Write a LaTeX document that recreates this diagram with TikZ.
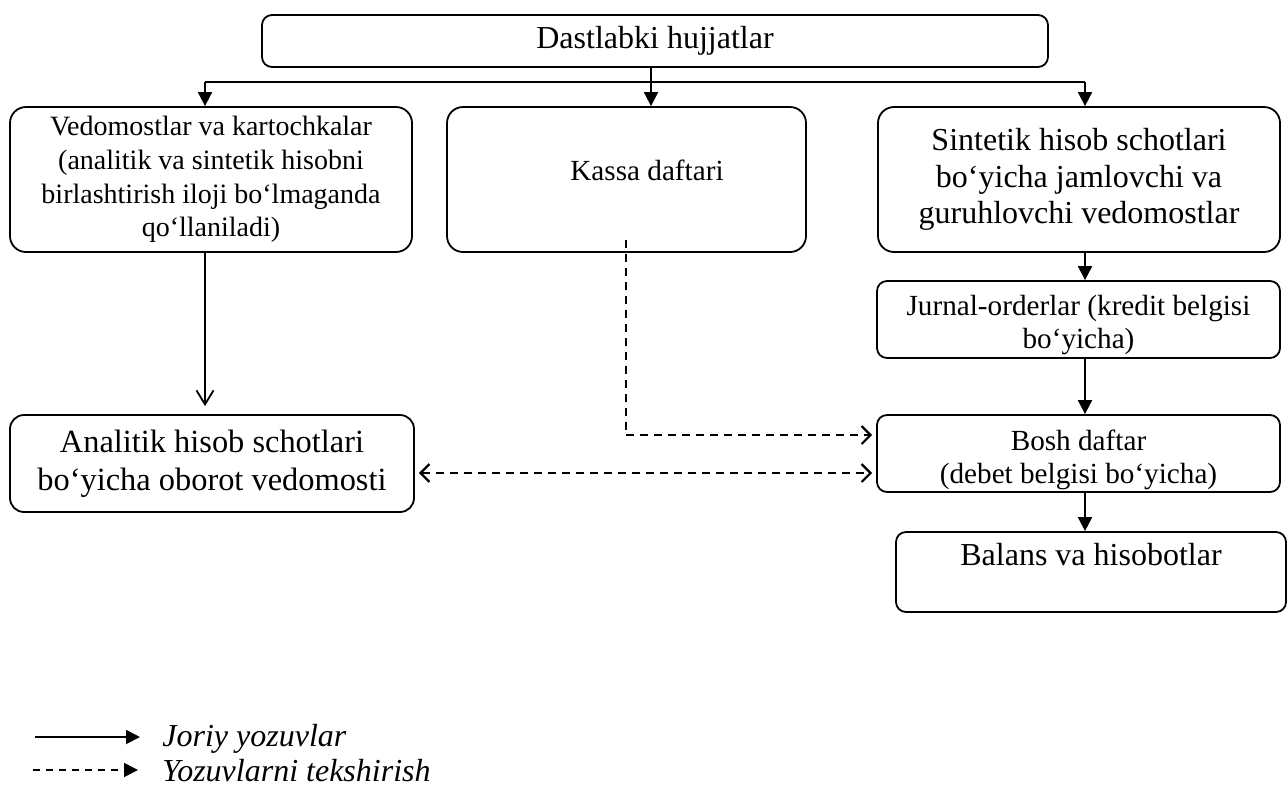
\documentclass[tikz,border=0pt]{standalone}
\usepackage{fontspec}
\setmainfont{Liberation Serif}
\usetikzlibrary{arrows.meta}
\begin{document}
\begin{tikzpicture}[x=0.5pt,y=-0.5pt,
  box/.style={draw,line width=0.9pt,rounded corners=8pt,align=center,inner sep=0pt},
  smallbox/.style={box,rounded corners=5pt},
  txt/.style={align=center,inner sep=0pt},
  big/.style={font=\fontsize{16}{19.2}\selectfont},
  mid/.style={font=\fontsize{14.6}{16.8}\selectfont},
  solidarrow/.style={line width=0.9pt,-{Triangle[length=7pt,width=7pt]}},
  openarrow/.style={line width=0.9pt,-{Straight Barb[length=7pt,width=8.5pt,line width=0.9pt]}},
  dashthin/.style={line width=0.6pt,dash pattern=on 4pt off 3pt},
  dashthick/.style={line width=1.1pt,dash pattern=on 4pt off 3pt},
  legtext/.style={font=\fontsize{16}{19.2}\selectfont\itshape,anchor=west,inner sep=0pt}
]
\useasboundingbox (0,0) rectangle (1288,794);

% boxes
\node[smallbox,big,minimum width=393pt,minimum height=26pt] (top) at (655,41) {Dastlabki hujjatlar};
\node[box,minimum width=201pt,minimum height=72.5pt,font=\fontsize{14}{16.8}\selectfont] (ved) at (211,179.5)
  {Vedomostlar va kartochkalar\\(analitik va sintetik hisobni\\birlashtirish iloji bo‘lmaganda\\qo‘llaniladi)};
\node[box,minimum width=179.5pt,minimum height=72.5pt] (kassa) at (626.5,179.5) {};
\node[txt,mid] (kassatxt) at (647,170) {Kassa daftari};
\node[box,minimum width=201pt,minimum height=72.5pt,font=\fontsize{16}{18.4}\selectfont] (sint) at (1079,179.5)
  {Sintetik hisob schotlari\\bo‘yicha jamlovchi va\\guruhlovchi vedomostlar};
\node[smallbox,minimum width=201.5pt,minimum height=38.5pt] (jur) at (1078.5,319.5) {};
\node[txt,mid] (jurtxt) at (1078.5,325) {Jurnal-orderlar (kredit belgisi\\bo‘yicha)};
\node[smallbox,minimum width=201.5pt,minimum height=38.5pt] (bosh) at (1078.5,453.5) {};
\node[txt,mid] (boshtxt) at (1078.5,460) {Bosh daftar\\(debet belgisi bo‘yicha)};
\node[smallbox,minimum width=195pt,minimum height=40pt] (bal) at (1091,572) {};
\node[txt,big] (baltxt) at (1091,555) {Balans va hisobotlar};
\node[box,rounded corners=7pt,minimum width=202pt,minimum height=48.5pt,font=\fontsize{16.2}{19.2}\selectfont] (anal) at (212,463.5)
  {Analitik hisob schotlari\\bo‘yicha oborot vedomosti};

% distribution from top
\coordinate (bus) at (651,82);
\coordinate (busL) at (205,82);
\coordinate (busR) at (1085,82);
\draw[line width=0.9pt] (top.south -| bus) -- (bus);
\draw[line width=0.9pt] (busL) -- (busR);
\draw[solidarrow] (busL) -- (ved.north -| busL);
\draw[solidarrow] (bus) -- (kassa.north -| bus);
\draw[solidarrow] (busR) -- (sint.north -| busR);

% right column
\draw[solidarrow] (sint.south -| busR) -- (jur.north -| busR);
\draw[solidarrow] (jur.south -| busR) -- (bosh.north -| busR);
\draw[solidarrow] (bosh.south -| busR) -- (bal.north -| busR);

% left column
\draw[openarrow,shorten >=4pt] (ved.south -| busL) -- (anal.north -| busL);

% dashed connectors
\coordinate (kstart) at (626,240);
\coordinate (kcorner) at (626,435);
\draw[dashthin] (kstart) -- (kcorner);
\draw[dashthick,-{Straight Barb[length=4.5pt,width=9pt,line width=1.1pt]},shorten >=2pt] (kcorner) -- (bosh.west |- kcorner);
\coordinate (dd) at (500,473);
\draw[dashthick,{Straight Barb[length=4.5pt,width=9pt,line width=1.1pt]}-{Straight Barb[length=4.5pt,width=9pt,line width=1.1pt]},shorten >=2pt,shorten <=2pt]
  (anal.east |- dd) -- (bosh.west |- dd);

% legend
\coordinate (l1a) at (35,737);
\coordinate (l1b) at (140,737);
\coordinate (l2a) at (33,770);
\coordinate (l2b) at (138,770);
\draw[solidarrow] (l1a) -- (l1b);
\draw[line width=0.9pt,dash pattern=on 3.5pt off 3pt,-{Triangle[length=7pt,width=7pt]}] (l2a) -- (l2b);
\node[legtext] (lt1) at (162,739) {Joriy yozuvlar};
\node[legtext] (lt2) at (162,771) {Yozuvlarni tekshirish};
\end{tikzpicture}
\end{document}
